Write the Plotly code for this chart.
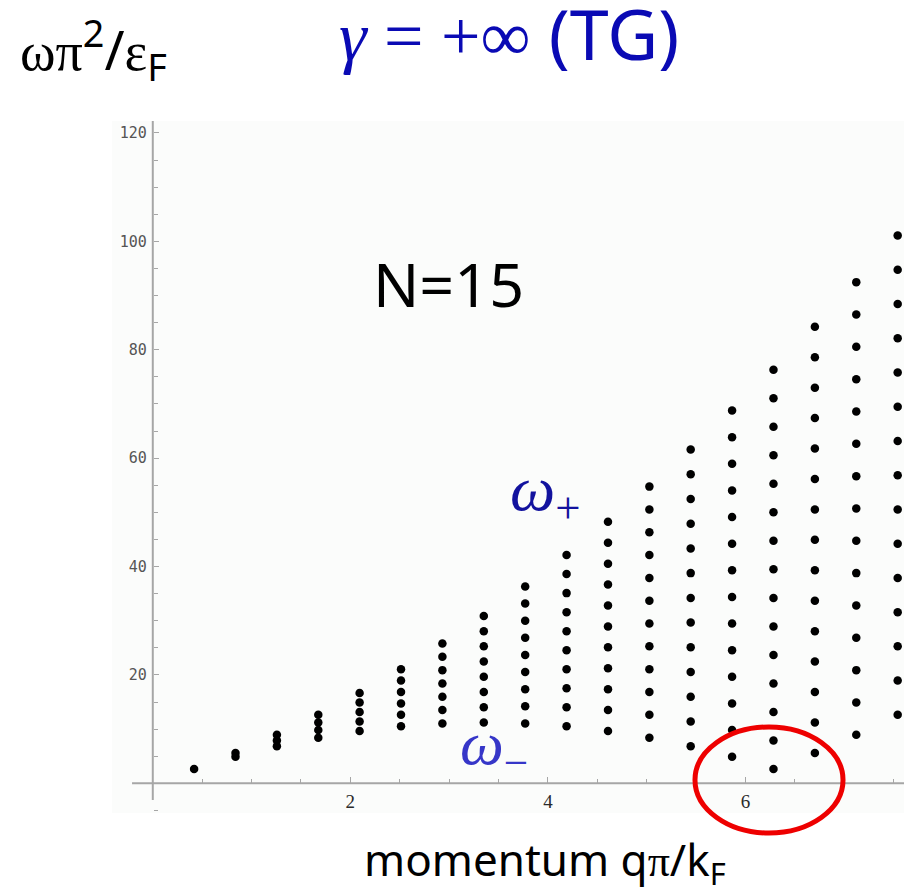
import plotly.graph_objects as go

# Momentum columns q*pi/k_F (n = 1..18, N = 15)
momentum = [0.419, 0.838, 1.257, 1.676, 2.094, 2.513, 2.932, 3.351, 3.770,
            4.189, 4.608, 5.027, 5.445, 5.864, 6.283, 6.702, 7.121, 7.540]

# Excitation energies omega*pi^2/eps_F for each momentum column
omega = [
    [2.63],
    [4.91, 5.61],
    [6.84, 7.90, 8.95],
    [8.42, 9.83, 11.23, 12.63],
    [9.65, 11.40, 13.16, 14.91, 16.67],
    [10.53, 12.63, 14.74, 16.84, 18.95, 21.06],
    [11.05, 13.51, 15.97, 18.42, 20.88, 23.34, 25.79],
    [11.23, 14.04, 16.84, 19.65, 22.46, 25.27, 28.07, 30.88],
    [11.05, 14.21, 17.37, 20.53, 23.69, 26.85, 30.00, 33.16, 36.32],
    [10.53, 14.04, 17.55, 21.06, 24.56, 28.07, 31.58, 35.09, 38.60, 42.11],
    [9.65, 13.51, 17.37, 21.23, 25.09, 28.95, 32.81, 36.67, 40.53, 44.39, 48.25],
    [8.42, 12.63, 16.84, 21.06, 25.27, 29.48, 33.69, 37.90, 42.11, 46.32, 50.53, 54.74],
    [6.84, 11.40, 15.97, 20.53, 25.09, 29.65, 34.21, 38.78, 43.34, 47.90, 52.46, 57.02, 61.59],
    [4.91, 9.83, 14.74, 19.65, 24.56, 29.48, 34.39, 39.30, 44.22, 49.13, 54.04, 58.95, 63.87, 68.78],
    [2.63, 7.90, 13.16, 18.42, 23.69, 28.95, 34.21, 39.48, 44.74, 50.01, 55.27, 60.53, 65.80, 71.06, 76.32],
    [5.61, 11.23, 16.84, 22.46, 28.07, 33.69, 39.30, 44.92, 50.53, 56.15, 61.76, 67.38, 72.99, 78.61, 84.22],
    [8.95, 14.91, 20.88, 26.85, 32.81, 38.78, 44.74, 50.71, 56.67, 62.64, 68.61, 74.57, 80.54, 86.50, 92.47],
    [12.63, 18.95, 25.27, 31.58, 37.90, 44.22, 50.53, 56.85, 63.17, 69.48, 75.80, 82.11, 88.43, 94.75, 101.06],
]

x_ticks = [2, 4, 6]
y_ticks = [20, 40, 60, 80, 100, 120]

xs, ys = [], []
for q, col in zip(momentum, omega):
    xs.extend([q] * len(col))
    ys.extend(col)

fig = go.Figure()
fig.add_trace(go.Scatter(
    x=xs, y=ys, mode="markers",
    marker=dict(size=8.5, color="black", line=dict(width=0)),
    hoverinfo="x+y", showlegend=False,
))

AXIS_GRAY = "#a6a6a6"
SERIF = "Liberation Serif"
SANS = "Noto Sans"

fig.update_layout(
    width=904, height=891,
    margin=dict(l=112, r=0, t=121, b=78),
    paper_bgcolor="white",
    plot_bgcolor="#fbfcfb",
    showlegend=False,
    xaxis=dict(
        range=[-0.412, 7.604], anchor="free", position=0.0429,
        showgrid=False, zeroline=False, showline=False,
        tickvals=x_ticks, ticktext=[str(v) for v in x_ticks],
        ticks="inside", ticklen=6, tickwidth=1, tickcolor=AXIS_GRAY,
        minor=dict(dtick=0.5, tick0=0, ticks="inside", ticklen=4,
                   tickwidth=1, tickcolor=AXIS_GRAY, showgrid=False),
        tickfont=dict(family=SERIF, size=19, color="#2a2a2a"),
        ticklabelstandoff=5,
    ),
    yaxis=dict(
        range=[-5.48, 122.2], anchor="free", position=0.0515,
        showgrid=False, zeroline=False, showline=False,
        tickvals=y_ticks, ticktext=[str(v) for v in y_ticks],
        ticks="inside", ticklen=5, tickwidth=1, tickcolor=AXIS_GRAY,
        minor=dict(dtick=5, tick0=0, ticks="inside", ticklen=4,
                   tickwidth=1, tickcolor=AXIS_GRAY, showgrid=False),
        tickfont=dict(family="DejaVu Sans Mono", size=15, color="#555555"),
        ticklabelstandoff=6,
    ),
)

# Axis lines crossing at the origin
fig.add_shape(type="line", xref="paper", yref="paper",
              x0=0.0253, x1=1.0, y0=0.0429, y1=0.0429,
              line=dict(color=AXIS_GRAY, width=2), layer="below")
fig.add_shape(type="line", xref="paper", yref="paper",
              x0=0.0515, x1=0.0515, y0=0.0188, y1=1.0,
              line=dict(color=AXIS_GRAY, width=2), layer="below")

# Highlight of the lowest branch near q = 2 k_F
fig.add_shape(type="circle", xref="paper", yref="paper",
              x0=0.7361, x1=0.9230, y0=-0.0289, y1=0.1243,
              line=dict(color="#ee0000", width=5), layer="above")

ann = []
# Vertical axis label
ann.append(dict(
    text=(f"<span style='font-family:{SERIF}'>ωπ</span><sup>2</sup>/"
          f"<span style='font-family:{SERIF}'>ε</span><sub>F</sub>"),
    x=-0.1187, y=1.103, xanchor="left", yanchor="middle",
    font=dict(family=SANS, size=54, color="black"),
))
# Title
ann.append(dict(
    text=(f"<span style='font-family:{SERIF}'><i>γ</i> = +∞</span> (TG)"),
    x=0.2841, y=1.127, xanchor="left", yanchor="middle",
    font=dict(family=SANS, size=70, color="#0a0ab4"),
))
# Particle number
ann.append(dict(
    text="N=15", x=0.4255, y=0.765, xanchor="center", yanchor="middle",
    font=dict(family=SANS, size=61, color="black"),
))
# Branch labels
ann.append(dict(
    text="<i>ω</i><sub>+</sub>", x=0.50, y=0.462, xanchor="left", yanchor="middle",
    font=dict(family=SERIF, size=64, color="#12129e"),
))
ann.append(dict(
    text="<i>ω</i><sub>−</sub>", x=0.4369, y=0.094, xanchor="left", yanchor="middle",
    font=dict(family=SERIF, size=62, color="#3636c8"),
))
# Horizontal axis label
ann.append(dict(
    text=(f"momentum q<span style='font-family:{SERIF}'>π</span>/k<sub>F</sub>"),
    x=0.5467, y=-0.0708, xanchor="center", yanchor="middle",
    font=dict(family=SANS, size=44, color="black"),
))
for a in ann:
    a.update(xref="paper", yref="paper", showarrow=False)
fig.update_layout(annotations=ann)

fig.write_html("out.html")
